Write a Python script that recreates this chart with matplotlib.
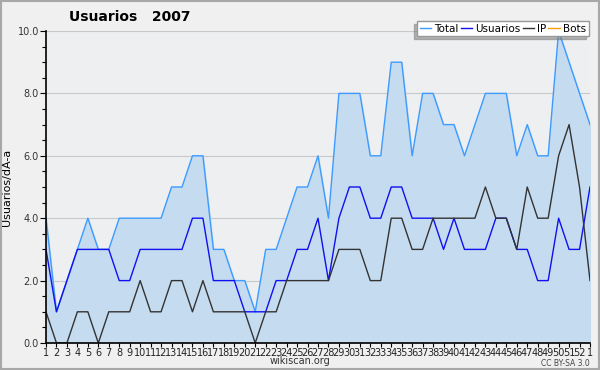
import matplotlib.pyplot as plt
import numpy as np

# semanas 1..52 y la primera del año siguiente
weeks = [str(i) for i in range(1, 53)] + ['1']

total = [4, 1, 2, 3, 4, 3, 3, 4, 4, 4, 4, 4, 5, 5, 6, 6, 3, 3, 2, 2,
         1, 3, 3, 4, 5, 5, 6, 4, 8, 8, 8, 6, 6, 9, 9, 6, 8, 8, 7, 7,
         6, 7, 8, 8, 8, 6, 7, 6, 6, 10, 9, 8, 7]
usuarios = [3, 1, 2, 3, 3, 3, 3, 2, 2, 3, 3, 3, 3, 3, 4, 4, 2, 2, 2, 1,
            1, 1, 2, 2, 3, 3, 4, 2, 4, 5, 5, 4, 4, 5, 5, 4, 4, 4, 3, 4,
            3, 3, 3, 4, 4, 3, 3, 2, 2, 4, 3, 3, 5]
ip = [1, 0, 0, 1, 1, 0, 1, 1, 1, 2, 1, 1, 2, 2, 1, 2, 1, 1, 1, 1,
      0, 1, 1, 2, 2, 2, 2, 2, 3, 3, 3, 2, 2, 4, 4, 3, 3, 4, 4, 4,
      4, 4, 5, 4, 4, 3, 5, 4, 4, 6, 7, 5, 2]
bots = [0] * 53

x = np.arange(len(weeks))

fig = plt.figure(figsize=(6, 3.7), dpi=100, facecolor='#f0f0f0')
ax = fig.add_axes([46/600, 27/370, 544/600, 312/370])
ax.set_facecolor('#eeeff1')

# marco gris de la figura
fig.patches.append(plt.Rectangle((0.001, 0.002), 0.997, 0.995, transform=fig.transFigure,
                                 fill=False, edgecolor='#a8a8a8', linewidth=1.5))

for yv in [2, 4, 6, 8, 10]:
    ax.axhline(yv, color='#c8c9cc', linewidth=0.8, zorder=0)

ax.fill_between(x, total, 0, color='#c5dcf0', zorder=1)
ax.plot(x, bots, color='#ff9900', linewidth=1, zorder=2)
ax.plot(x, total, color='#3d9bff', linewidth=1, zorder=3)
ax.plot(x, usuarios, color='#1010f0', linewidth=1, zorder=4)
ax.plot(x, ip, color='#333333', linewidth=1, zorder=5)

ax.set_xlim(0, len(weeks) - 1)
ax.set_ylim(0, 10)
ax.set_xticks(x)
ax.set_xticklabels(weeks, fontsize=7, color='#222222',
                   family=['Liberation Sans Narrow', 'DejaVu Sans'])
ax.set_yticks([0, 2, 4, 6, 8, 10])
ax.set_yticklabels(['0.0', '2.0', '4.0', '6.0', '8.0', '10.0'], fontsize=7, color='#333333')
ax.set_yticks(np.arange(0, 10.01, 0.5), minor=True)
ax.tick_params(axis='x', length=3, pad=0.5, width=0.8)
ax.tick_params(axis='y', which='major', length=4, pad=1, width=0.8)
ax.tick_params(axis='y', which='minor', length=3, width=0.8)

ax.spines['top'].set_visible(False)
ax.spines['right'].set_visible(False)
ax.spines['left'].set_linewidth(1.2)
ax.spines['bottom'].set_linewidth(1.2)
for s in ['left', 'bottom']:
    ax.spines[s].set_zorder(6)

ax.set_ylabel('Usuarios/dÃ-a', fontsize=8, labelpad=4)

fig.text(130/600, 1 - 17/370, 'Usuarios   2007', ha='center', va='center',
         fontsize=10, fontweight='bold')
fig.text(300/600, 1 - 361/370, 'wikiscan.org', ha='center', va='center',
         fontsize=7, color='#333333')
fig.text(590/600, 1 - 363/370, 'CC BY-SA 3.0', ha='right', va='center',
         fontsize=5.5, color='#444444')

handles = [plt.Line2D([], [], color=c, linewidth=1)
           for c in ['#3d9bff', '#1010f0', '#333333', '#ff9900']]
fig.legend(handles, ['Total', 'Usuarios', 'IP', 'Bots'], ncol=4,
           loc='upper right', bbox_to_anchor=(594/600, 1 - 16/370),
           fontsize=7.5, frameon=True, fancybox=False,
           shadow={'ox': -2, 'oy': -2, 'color': '#777777'},
           handlelength=1.1, handletextpad=0.3, columnspacing=0.2,
           borderpad=0.25, edgecolor='#999999', framealpha=1)

plt.savefig('out.png', dpi=100, facecolor=fig.get_facecolor())
